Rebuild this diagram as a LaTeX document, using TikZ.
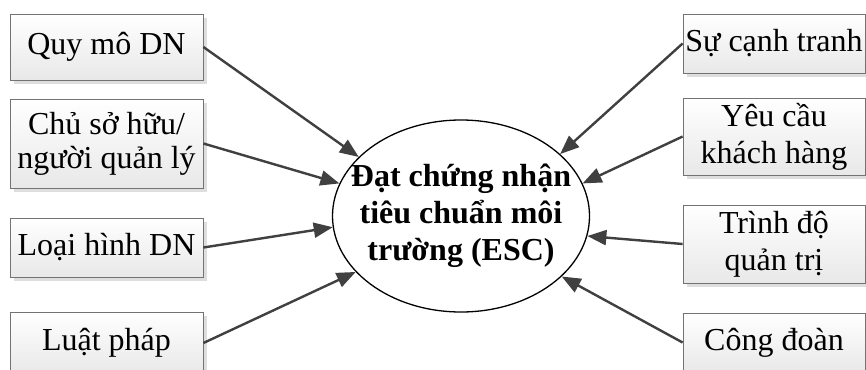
\documentclass[tikz,border=0pt]{standalone}
\usepackage{fontspec}
\setmainfont{Liberation Serif}
\usetikzlibrary{shapes.geometric,arrows.meta,shadows}
\begin{document}
\begin{tikzpicture}[x=1pt,y=-1pt,
  box/.style={rectangle, draw=black!55, line width=0.8pt, top color=white, bottom color=black!9,
    drop shadow={shadow xshift=4pt, shadow yshift=-4pt, fill=black!13, opacity=1},
    align=center, inner sep=0pt},
  lbox/.style={box, minimum width=193pt, font=\fontsize{32}{34}\selectfont},
  rbox/.style={box, minimum width=182pt, font=\fontsize{32}{37}\selectfont},
  arr/.style={draw=black!75, line width=2.4pt, -{Triangle[length=19pt,width=15pt]}}
]
\useasboundingbox (0,0) rectangle (866,369);
\fill[white] (0,0) rectangle (866,369);

\node[ellipse, draw=black, line width=1.3pt, minimum width=257pt, minimum height=192pt, inner sep=0pt] (e) at (461,216) {};
\node[align=center, inner sep=0pt, font=\fontsize{32}{37}\selectfont\bfseries] (et) at (e.center)
  {Đạt chứng nhận\\tiêu chuẩn môi\\trường (ESC)};

\node[lbox, minimum height=66pt] (a1) at (106.5,47) {Quy mô DN};
\node[lbox, minimum height=89pt] (a2) at (106.5,143.5) {Chủ sở hữu/\\người quản lý};
\node[lbox, minimum height=59pt] (a3) at (106.5,247.5) {Loại hình DN};
\node[lbox, minimum height=62pt] (a4) at (106.5,343) {Luật pháp};

\node[rbox, minimum height=59pt] (b1) at (774,43.5) {Sự cạnh tranh};
\node[rbox, minimum height=77pt] (b2) at (774,136.5) {Yêu cầu\\khách hàng};
\node[rbox, minimum height=78pt] (b3) at (774,244) {Trình độ\\quản trị};
\node[rbox, minimum height=59pt] (b4) at (774,342.5) {Công đoàn};

\draw[arr] (a1.east) -- (e.150);
\draw[arr] (a2.east) -- (e.165);
\draw[arr] (a3.east) -- (e.185);
\draw[arr] (a4.east) -- (e.208);
\draw[arr] (b1.west) -- (e.32);
\draw[arr] (b2.west) -- (e.15);
\draw[arr] (b3.west) -- (e.-9);
\draw[arr] (b4.west) -- (e.-31);
\end{tikzpicture}
\end{document}
